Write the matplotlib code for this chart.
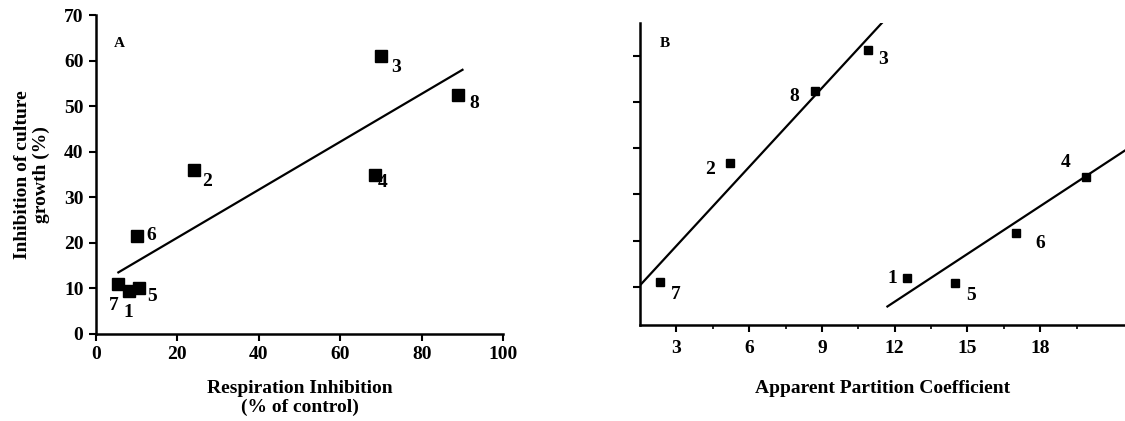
import matplotlib
matplotlib.use('Agg')
import matplotlib.pyplot as plt
import numpy as np

plt.rcParams['font.family'] = ['Liberation Serif', 'DejaVu Serif']

# panel A: respiration inhibition vs growth inhibition
ids = ['1', '2', '3', '4', '5', '6', '7', '8']
resp_inh = [8, 24, 70, 68.5, 10.5, 10, 5.5, 89]
growth_a = [9.5, 36, 61, 35, 10, 21.5, 11, 52.5]
fit_a_x = [5.5, 90]
fit_a_y = [13.5, 58]

# panel B: apparent partition coefficient vs growth inhibition
part_coef = [12.5, 5.2, 10.9, 19.9, 14.5, 17.0, 2.3, 8.7]
growth_b = [11.9, 36.8, 61.3, 33.8, 10.8, 21.7, 11.1, 52.3]
fit_b1_x = [1.5, 11.5]
fit_b1_y = [10.4, 67.2]
fit_b2_x = [11.7, 21.5]
fit_b2_y = [5.8, 39.5]

# label offsets (points)
off_a = {'1': (-4, -16), '2': (6, -8), '3': (7, -8), '4': (2, -6), '5': (6, -6),
         '6': (7, 0), '7': (-7, -16), '8': (8, -6)}
off_b = {'1': (-14, 0), '2': (-18, -5), '3': (7, -7), '4': (-18, 10), '5': (8, -9),
         '6': (14, -8), '7': (8, -9), '8': (-18, -4)}

fig = plt.figure(figsize=(11.25, 4.21), dpi=100)

ax = fig.add_axes([0.0853, 0.207, 0.362, 0.757])
ax.plot(fit_a_x, fit_a_y, color='black', lw=1.6)
ax.plot(resp_inh, growth_a, 's', color='black', ms=8)
for i, x, y in zip(ids, resp_inh, growth_a):
    ax.annotate(i, (x, y), xytext=off_a[i], textcoords='offset points',
                fontsize=14, fontweight='bold', va='center')
ax.set_xlim(0, 100)
ax.set_ylim(0, 70)
ax.set_xticks([0, 20, 40, 60, 80, 100])
ax.set_yticks(range(0, 71, 10))
ax.spines['top'].set_visible(False)
ax.spines['right'].set_visible(False)
for s in ['left', 'bottom']:
    ax.spines[s].set_linewidth(1.8)
ax.tick_params(direction='out', width=1.5, length=5, labelsize=14, pad=4)
for lb in ax.get_xticklabels() + ax.get_yticklabels():
    lb.set_fontweight('bold')
ax.set_xlabel('Respiration Inhibition\n(% of control)', fontsize=14, fontweight='bold',
              labelpad=12, linespacing=1.1)
ax.set_ylabel('Inhibition of culture\ngrowth (%)', fontsize=14, fontweight='bold',
              labelpad=10, linespacing=1.1)
ax.text(0.045, 0.9, 'A', transform=ax.transAxes, fontsize=11, fontweight='bold')

bx = fig.add_axes([0.569, 0.228, 0.431, 0.717])
bx.plot(fit_b1_x, fit_b1_y, color='black', lw=1.6)
bx.plot(fit_b2_x, fit_b2_y, color='black', lw=1.6)
bx.plot(part_coef, growth_b, 's', color='black', ms=6)
for i, x, y in zip(ids, part_coef, growth_b):
    bx.annotate(i, (x, y), xytext=off_b[i], textcoords='offset points',
                fontsize=14, fontweight='bold', va='center')
bx.set_xlim(1.5, 21.5)
bx.set_ylim(1.8, 67)
bx.set_xticks([3, 6, 9, 12, 15, 18])
bx.set_xticks(np.arange(4.5, 21, 3), minor=True)
bx.set_yticks(range(10, 61, 10))
bx.set_yticklabels([])
bx.spines['top'].set_visible(False)
bx.spines['right'].set_visible(False)
for s in ['left', 'bottom']:
    bx.spines[s].set_linewidth(1.8)
bx.tick_params(direction='out', width=1.5, length=5, labelsize=14, pad=6)
bx.tick_params(which='minor', direction='out', width=1.2, length=3)
for lb in bx.get_xticklabels():
    lb.set_fontweight('bold')
bx.set_xlabel('Apparent Partition Coefficient', fontsize=14, fontweight='bold', labelpad=16)
bx.text(0.04, 0.92, 'B', transform=bx.transAxes, fontsize=11, fontweight='bold')

fig.savefig('out.png', dpi=100)
